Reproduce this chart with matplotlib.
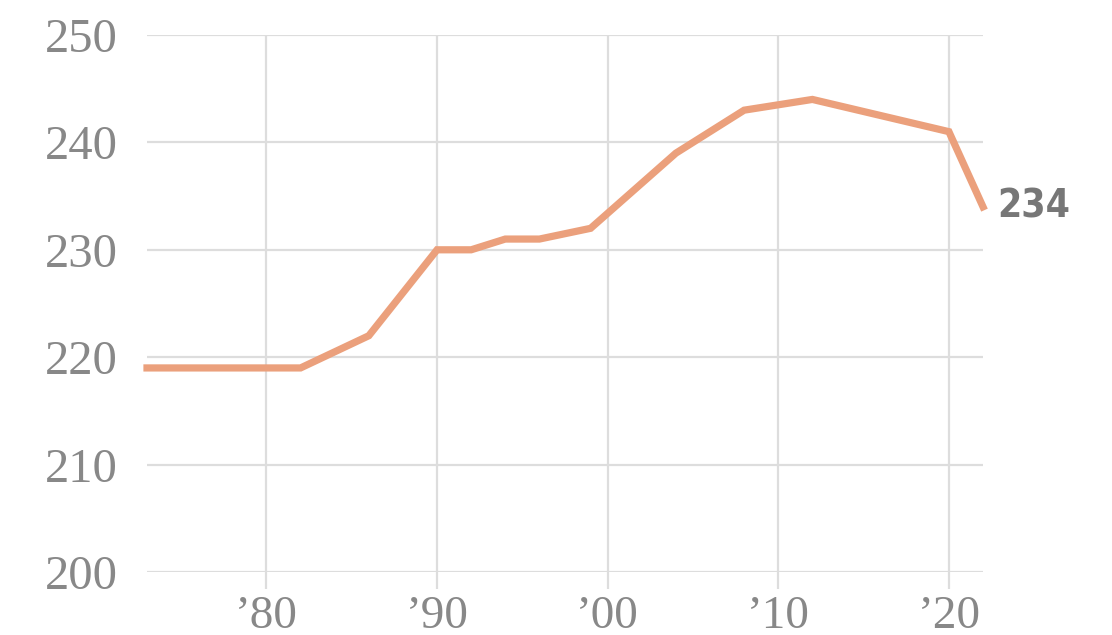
import matplotlib
matplotlib.use("Agg")
import matplotlib.pyplot as plt

years = [1973, 1982, 1986, 1990, 1992, 1994, 1996, 1999, 2004, 2008, 2012, 2020, 2022]
values = [219, 219, 222, 230, 230, 231, 231, 232, 239, 243, 244, 241, 234]
x_ticks = [1980, 1990, 2000, 2010, 2020]
x_labels = ["\u201980", "\u201990", "\u201900", "\u201910", "\u201920"]
y_ticks = [200, 210, 220, 230, 240, 250]
end_label = "234"

fig = plt.figure(figsize=(11.12, 6.35), dpi=100)
ax = fig.add_axes([0.1322, 0.0992, 0.7518, 0.8457])
grid_c = "#dddddd"
ax.plot(years, values, color="#eba07c", lw=5.2, solid_joinstyle="miter", clip_on=False, zorder=3)
ax.set_xlim(1973, 2022)
ax.set_ylim(200, 250)
ax.set_xticks(x_ticks)
ax.set_xticklabels(x_labels)
ax.set_yticks(y_ticks)
ax.grid(True, color=grid_c, lw=1.6)
ax.set_axisbelow(True)
for s in ax.spines.values():
    s.set_visible(False)
ax.tick_params(axis="x", length=12, width=1.6, color=grid_c, pad=5,
               labelsize=34, labelcolor="#888888")
ax.tick_params(axis="y", length=0, pad=21, labelsize=35, labelcolor="#888888")
for lab in ax.get_xticklabels() + ax.get_yticklabels():
    lab.set_fontfamily("Liberation Serif")
ax.annotate(end_label, xy=(years[-1], values[-1]), xytext=(10, 0), textcoords="offset points",
            ha="left", va="center", fontsize=28, fontweight="bold", color="#777777",
            fontfamily="DejaVu Sans", fontstretch="condensed", annotation_clip=False)
fig.savefig("out.png", dpi=100)
